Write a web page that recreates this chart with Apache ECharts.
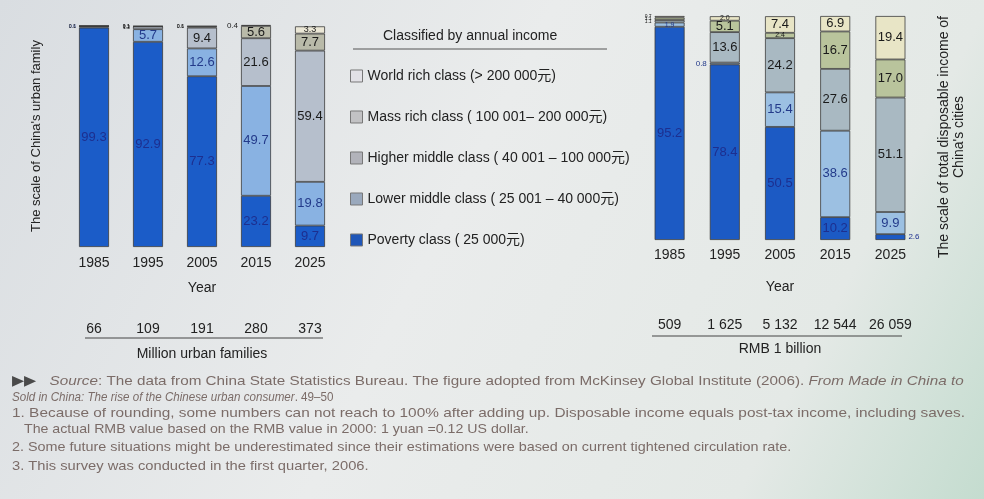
<!DOCTYPE html>
<html><head><meta charset="utf-8">
<script src="https://cdn.jsdelivr.net/npm/echarts@6/dist/echarts.min.js"></script>
<style>html,body{margin:0;padding:0;background:#e6e9eb;}#c{width:984px;height:499px;}</style>
</head><body><div id="c"></div>
<script>
// ---------- data ----------
const years = ['1985', '1995', '2005', '2015', '2025'];
const classNames = [
  'Poverty class ( 25 000元)',
  'Lower middle class ( 25 001 – 40 000元)',
  'Higher middle class ( 40 001 – 100 000元)',
  'Mass rich class ( 100 001– 200 000元)',
  'World rich class (> 200 000元)'
];
// share of China's urban families (%), by class
const familyPoverty      = [99.3, 92.9, 77.3, 23.2, 9.7];
const familyLowerMiddle  = [0.6, 5.7, 12.6, 49.7, 19.8];
const familyHigherMiddle = [0.1, 1.2, 9.4, 21.6, 59.4];
const familyMassRich     = [0, 0.1, 0.6, 5.6, 7.7];
const familyWorldRich    = [0, 0.1, 0.1, 0.4, 3.3];
// share of total disposable income of China's cities (%), by class
const incomePoverty      = [95.2, 78.4, 50.5, 10.2, 2.6];
const incomeLowerMiddle  = [1.9, 0.8, 15.4, 38.6, 9.9];
const incomeHigherMiddle = [1.1, 13.6, 24.2, 27.6, 51.1];
const incomeMassRich     = [1.1, 5.1, 2.4, 16.7, 17.0];
const incomeWorldRich    = [0.7, 2.0, 7.4, 6.9, 19.4];
// totals rows
const familyTotals = ['66', '109', '191', '280', '373'];   // million urban families
const incomeTotals = ['509', '1 625', '5 132', '12 544', '26 059']; // RMB 1 billion

// ---------- styles ----------
const FONT = "'Liberation Sans', 'Noto Sans CJK SC', Arial, sans-serif";
const leftColors  = ['#1b5cc8', '#89b2e2', '#b6bfcc', '#b9baa9', '#ebe7d6'];
const rightColors = ['#1c5ac4', '#9cc0e2', '#a9b9c2', '#b9c49c', '#e8e5c6'];
const legendColors = ['#1f56b8', '#9aa9bd', '#b2b3ba', '#c2c2c4', '#e2e1e6'];
const labelColors = ['#1d2f8f', '#233a8a', '#1a1a1a', '#1a1a1a', '#1a1a1a'];

const familySets = [familyPoverty, familyLowerMiddle, familyHigherMiddle, familyMassRich, familyWorldRich];
const incomeSets = [incomePoverty, incomeLowerMiddle, incomeHigherMiddle, incomeMassRich, incomeWorldRich];

function buildData(sets, k) {
  return sets[k].map((v, i) => {
    const tinyCount = sets.filter(s => s[i] > 0 && s[i] < 1.5).length;
    let label;
    if (v <= 0) label = { show: false };
    else if (v < 1.5) label = { show: true, position: 'left', distance: 3, fontSize: tinyCount === 1 ? 8 : 5 };
    else if (v < 4 && k === 0) label = { show: true, position: 'right', distance: 3, fontSize: 8 };
    else if (v < 3) label = { show: true, position: 'inside', fontSize: 7 };
    else if (v < 4) label = { show: true, position: 'inside', fontSize: 9 };
    else label = { show: true, position: 'inside', fontSize: 13 };
    return { value: v, label: label };
  });
}

const series = [];
[[familySets, leftColors, 0, 'fam'], [incomeSets, rightColors, 1, 'inc']].forEach(([sets, colors, gi, stack]) => {
  for (let k = 0; k < 5; k++) {
    series.push({
      type: 'bar', name: classNames[k], stack: stack,
      xAxisIndex: gi * 2, yAxisIndex: gi,
      barWidth: 30,
      itemStyle: { color: colors[k], borderColor: '#3c3c3c', borderWidth: 0.8 },
      label: {
        show: true, color: labelColors[k], fontFamily: FONT,
        formatter: p => p.value.toFixed(1)
      },
      emphasis: { disabled: true },
      data: buildData(sets, k)
    });
  }
});

const axisText = { color: '#222', fontSize: 14, fontFamily: FONT };
function catAxis(grid, data, offset, name, nameGap, margin) {
  return {
    type: 'category', gridIndex: grid, data: data, position: 'bottom', offset: offset,
    axisLine: { show: false }, axisTick: { show: false },
    axisLabel: Object.assign({ margin: margin, interval: 0, hideOverlap: false }, axisText),
    name: name, nameLocation: 'middle', nameGap: nameGap,
    nameTextStyle: axisText
  };
}

const footColor = '#7b6c68';
const footStyle = { fill: footColor, fontSize: 13.5, fontFamily: FONT };
function foot(x, y, sx, text, rich) {
  return { type: 'text', x: x, y: y, scaleX: sx, style: Object.assign({ text: text, rich: rich || {} }, footStyle) };
}
const itRich = { it: { fontStyle: 'italic', fill: footColor, fontSize: 13.5 }, tri: { fill: '#4a4a4a', fontSize: 14 } };

const option = {
  animation: false,
  backgroundColor: {
    type: 'linear', x: 0, y: 0, x2: 1, y2: 1,
    colorStops: [
      { offset: 0, color: '#d9dde1' }, { offset: 0.45, color: '#eaecec' },
      { offset: 0.8, color: '#e4e9e6' }, { offset: 1, color: '#c4dccf' }
    ]
  },
  textStyle: { fontFamily: FONT },
  grid: [
    { left: 67, width: 270, top: 25, height: 222, outerBoundsMode: 'none', containLabel: false },
    { left: 642, width: 276, top: 16, height: 224, outerBoundsMode: 'none', containLabel: false }
  ],
  xAxis: [
    catAxis(0, years, 0, 'Year', 34, 9),
    catAxis(0, familyTotals, 66, 'Million urban families', 34, 9),
    catAxis(1, years, 0, 'Year', 40, 8),
    catAxis(1, incomeTotals, 70, 'RMB 1 billion', 32, 8)
  ],
  yAxis: [
    { type: 'value', gridIndex: 0, min: 0, max: 100.5, show: true,
      axisLine: { show: false }, axisTick: { show: false }, axisLabel: { show: false }, splitLine: { show: false },
      name: "The scale of China's urban family", nameLocation: 'middle', nameGap: 24, nameRotate: 90,
      nameTextStyle: { color: '#222', fontSize: 13, fontFamily: FONT } },
    { type: 'value', gridIndex: 1, min: 0, max: 100, position: 'right',
      axisLine: { show: false }, axisTick: { show: false }, axisLabel: { show: false }, splitLine: { show: false },
      name: "The scale of total disposable income of\nChina's cities", nameLocation: 'middle', nameGap: 19, nameRotate: 90,
      nameTextStyle: { color: '#222', fontSize: 14, lineHeight: 15, fontFamily: FONT, padding: [0, 18, 0, 0] } }
  ],
  legend: {
    orient: 'vertical', left: 345, top: 64, itemWidth: 12, itemHeight: 12, itemGap: 27,
    icon: 'rect', selectedMode: false,
    textStyle: { color: '#222', fontSize: 14, fontFamily: FONT },
    data: [4, 3, 2, 1, 0].map(k => ({ name: classNames[k], itemStyle: { color: legendColors[k], borderColor: '#777', borderWidth: 1 } }))
  },
  graphic: [
    { type: 'text', left: 383, top: 29, style: { text: 'Classified by annual income', fill: '#222', fontSize: 14, fontFamily: FONT } },
    { type: 'line', shape: { x1: 353, y1: 49, x2: 607, y2: 49 }, style: { stroke: '#555', lineWidth: 1 } },
    { type: 'line', shape: { x1: 85, y1: 338, x2: 323, y2: 338 }, style: { stroke: '#444', lineWidth: 1 } },
    { type: 'line', shape: { x1: 652, y1: 336, x2: 902, y2: 336 }, style: { stroke: '#444', lineWidth: 1 } },
    foot(12, 374, 1.13, '{tri|▶▶}   {it|Source}: The data from China State Statistics Bureau. The figure adopted from McKinsey Global Institute (2006). {it|From Made in China to}', itRich),
    foot(12, 390, 0.86, '{it|Sold in China: The rise of the Chinese urban consumer}. 49–50', itRich),
    foot(12, 407, 1.14, '1. Because of rounding, some numbers can not reach to 100% after adding up. Disposable income equals post-tax income, including saves.'),
    foot(24, 423, 1.05, 'The actual RMB value based on the RMB value in 2000: 1 yuan =0.12 US dollar.'),
    foot(12, 441, 1.065, '2. Some future situations might be underestimated since their estimations were based on current tightened circulation rate.'),
    foot(12, 460, 1.09, '3. This survey was conducted in the first quarter, 2006.')
  ],
  series: series
};

echarts.init(document.getElementById('c')).setOption(option);
</script>
</body></html>
